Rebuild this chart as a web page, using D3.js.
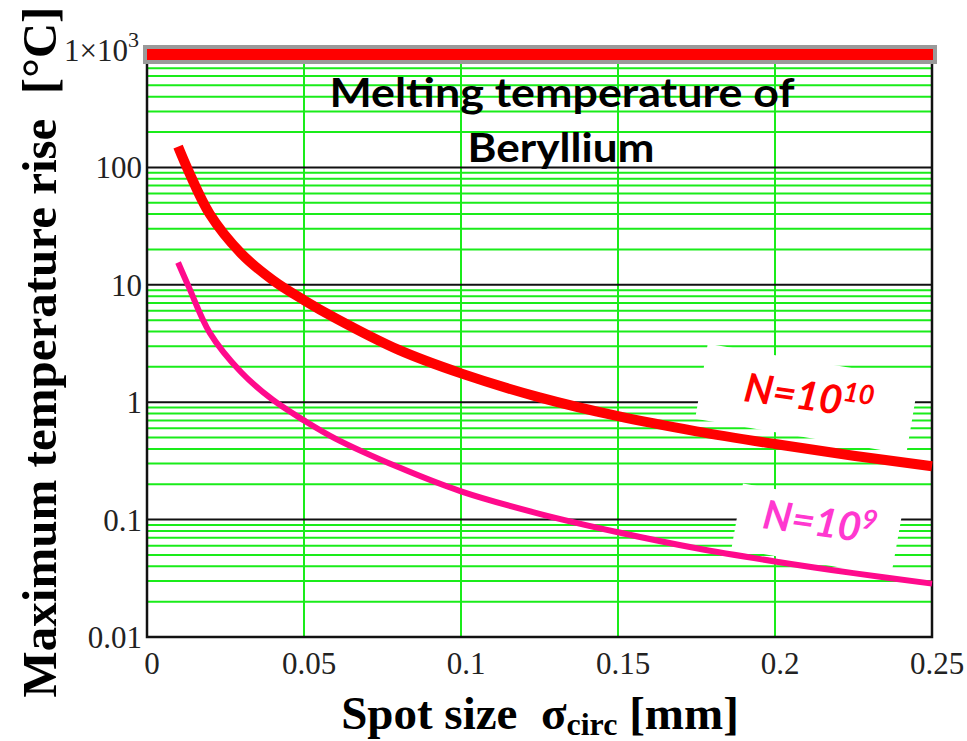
<!DOCTYPE html>
<html><head><meta charset="utf-8">
<script src="https://cdn.jsdelivr.net/npm/d3@7"></script>
<style>html,body{margin:0;padding:0;background:#fff;}svg{display:block;}</style>
</head><body>
<svg id="chart" width="967" height="741"></svg>
<script>
// ---- data ----
const spotSize  = [0.0099, 0.0133, 0.020, 0.030, 0.040, 0.050, 0.060, 0.080, 0.100, 0.125, 0.150, 0.175, 0.200, 0.225, 0.250];
const tempN1e10 = [150, 92, 40, 18.5, 11.0, 7.4, 5.2, 2.8, 1.76, 1.1, 0.76, 0.565, 0.44, 0.35, 0.285];
const tempN1e9  = [15.5, 9.6, 3.9, 1.8, 1.05, 0.70, 0.49, 0.28, 0.174, 0.112, 0.078, 0.057, 0.044, 0.035, 0.0285];
const meltValue = 1000;
const xTicks = [0, 0.05, 0.1, 0.15, 0.2, 0.25];
const xTickLabels = ["0", "0.05", "0.1", "0.15", "0.2", "0.25"];
const yTicks = [0.01, 0.1, 1, 10, 100, 1000];
const yTickLabels = ["0.01", "0.1", "1", "10", "100", "1×10"];
const titleLines = ["Melting temperature of", "Beryllium"];

// ---- layout ----
const L = 147, R = 932, T = 50, B = 637;
const svg = d3.select("#chart");
const x = d3.scaleLinear().domain([0, 0.25]).range([L, R]);
const y = d3.scaleLog().domain([0.01, 1000]).range([B, T]);
const green = "#1aec1a";

// minor grid (green) horizontal
const minor = [];
for (let e = -2; e < 3; e++) for (let k = 2; k <= 9; k++) minor.push(k * Math.pow(10, e));
svg.append("g").selectAll("line").data(minor).join("line")
  .attr("x1", L).attr("x2", R).attr("y1", d => y(d)).attr("y2", d => y(d))
  .attr("stroke", green).attr("stroke-width", 2);
// vertical grid (green)
svg.append("g").selectAll("line").data(xTicks.slice(1, -1)).join("line")
  .attr("x1", d => x(d)).attr("x2", d => x(d)).attr("y1", T).attr("y2", B)
  .attr("stroke", green).attr("stroke-width", 2);
// major grid (black)
svg.append("g").selectAll("line").data(yTicks.slice(1, -1)).join("line")
  .attr("x1", L).attr("x2", R).attr("y1", d => y(d)).attr("y2", d => y(d))
  .attr("stroke", "#111").attr("stroke-width", 2);

// frame
svg.append("path")
  .attr("d", `M${L},${T}V${B}H${R}V${T}`)
  .attr("fill", "none").attr("stroke", "#111").attr("stroke-width", 2.5);

// white label boxes
function whiteBox(cx, cy, w, h, ang) {
  svg.append("rect").attr("x", -w / 2).attr("y", -h / 2).attr("width", w).attr("height", h)
    .attr("fill", "#fff")
    .attr("transform", `translate(${cx},${cy}) rotate(${ang})`);
}
whiteBox(807, 399, 214, 76, 9.5);
whiteBox(817, 530, 162, 66, 10);

// melting line
const meltY = y(meltValue) + 4.5;
svg.append("line").attr("x1", 143).attr("x2", 937).attr("y1", meltY).attr("y2", meltY)
  .attr("stroke", "#9a9a9a").attr("stroke-width", 19);
svg.append("line").attr("x1", 147).attr("x2", 933).attr("y1", meltY).attr("y2", meltY)
  .attr("stroke", "#ff0000").attr("stroke-width", 11);

// curves
const line = d3.line().x(d => x(d[0])).y(d => y(d[1])).curve(d3.curveCatmullRom.alpha(0.5));
svg.append("path").datum(spotSize.map((s, i) => [s, tempN1e10[i]]))
  .attr("d", line).attr("fill", "none").attr("stroke", "#ff0000").attr("stroke-width", 10);
svg.append("path").datum(spotSize.map((s, i) => [s, tempN1e9[i]]))
  .attr("d", line).attr("fill", "none").attr("stroke", "#ff0a8c").attr("stroke-width", 6);

// tick labels
const tickFont = "'Liberation Serif','Times New Roman',serif";
const yt = svg.append("g").attr("font-family", tickFont).attr("font-size", 31).attr("fill", "#222");
yTicks.forEach((v, i) => {
  yt.append("text").attr("x", v === 1000 ? 128 : 142).attr("y", y(v) + 11)
    .attr("text-anchor", "end").text(yTickLabels[i]);
});
yt.append("text").attr("x", 128).attr("y", y(1000) - 3).attr("font-size", 22).text("3");
const xt = svg.append("g").attr("font-family", tickFont).attr("font-size", 31).attr("fill", "#222");
xTicks.forEach((v, i) => {
  xt.append("text").attr("x", x(v) + 5).attr("y", 674).attr("text-anchor", "middle").text(xTickLabels[i]);
});

// axis titles
svg.append("text").attr("transform", "translate(56,352) rotate(-90)")
  .attr("text-anchor", "middle").attr("font-family", tickFont).attr("font-weight", "bold")
  .attr("font-size", 49).attr("fill", "#000")
  .text("Maximum temperature rise\u00a0\u00a0[°C]");
const xl = svg.append("text").attr("x", 540).attr("y", 729).attr("text-anchor", "middle")
  .attr("font-family", tickFont).attr("font-weight", "bold").attr("font-size", 47).attr("fill", "#000");
xl.append("tspan").text("Spot size\u00a0\u00a0σ");
xl.append("tspan").attr("font-size", 32).attr("dy", 6).text("circ");
xl.append("tspan").attr("dy", -6).text(" [mm]");

// title
const titleFont = "Lato,'Open Sans',sans-serif";
svg.append("text").attr("x", 562).attr("y", 107).attr("text-anchor", "middle")
  .attr("font-family", titleFont).attr("font-weight", "bold").attr("font-size", 40)
  .attr("textLength", 465).attr("lengthAdjust", "spacingAndGlyphs").text(titleLines[0]);
svg.append("text").attr("x", 561).attr("y", 162).attr("text-anchor", "middle")
  .attr("font-family", titleFont).attr("font-weight", "bold").attr("font-size", 40)
  .attr("textLength", 187).attr("lengthAdjust", "spacingAndGlyphs").text(titleLines[1]);

// N labels
function nLabel(cx, cy, exp, color, ang) {
  const t = svg.append("text").attr("transform", `translate(${cx},${cy}) rotate(${ang})`)
    .attr("text-anchor", "middle").attr("font-family", titleFont).attr("font-weight", "bold")
    .attr("font-style", "italic").attr("font-size", 40).attr("fill", color);
  t.append("tspan").text("N=10");
  t.append("tspan").attr("font-size", 27).attr("dy", -14).text(exp);
}
nLabel(807, 410, "10", "#ff0000", 8);
nLabel(818, 536, "9", "#ff38d0", 8);
</script>
</body></html>
